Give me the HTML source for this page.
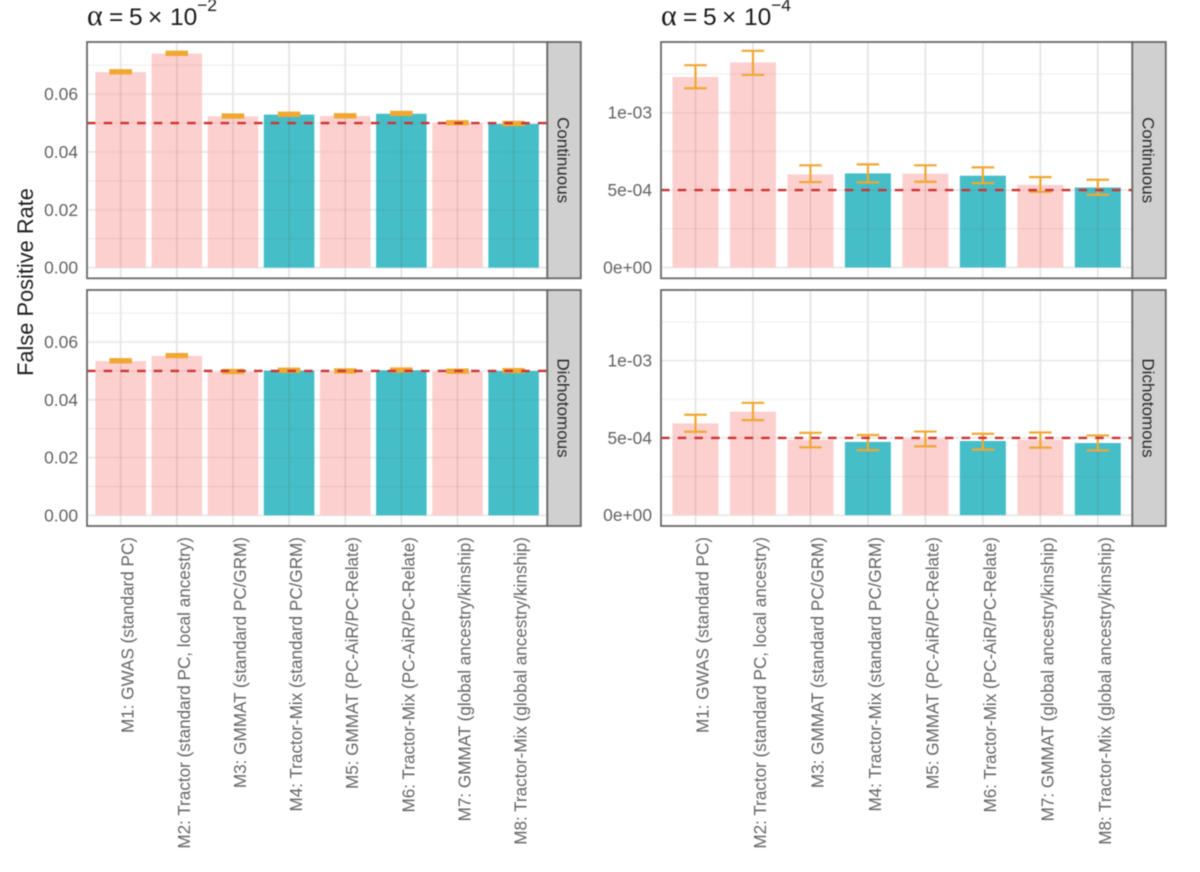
<!DOCTYPE html>
<html>
<head>
<meta charset="utf-8">
<title>False Positive Rate</title>
<style>
html,body{margin:0;padding:0;background:#fff;}
#chart{display:block;width:1200px;height:872px;font-family:"Liberation Sans",sans-serif;filter:blur(0.4px);}
</style>
</head>
<body>
<svg id="chart" xmlns="http://www.w3.org/2000/svg" width="1200" height="872" viewBox="0 0 1200 872">
  <text transform="translate(33,282) rotate(-90)" text-anchor="middle" font-size="21.8" fill="#1f1f1f">False Positive Rate</text>
  <g id="layer"></g>
</svg>
<script>
var methods = ["M1: GWAS (standard PC)","M2: Tractor (standard PC, local ancestry)","M3: GMMAT (standard PC/GRM)","M4: Tractor-Mix (standard PC/GRM)","M5: GMMAT (PC-AiR/PC-Relate)","M6: Tractor-Mix (PC-AiR/PC-Relate)","M7: GMMAT (global ancestry/kinship)","M8: Tractor-Mix (global ancestry/kinship)"];
var isTractorMix = [false,false,false,true,false,true,false,true];

var continuous05 = [0.0676,0.0740,0.0523,0.0529,0.0524,0.0532,0.0500,0.0497];
var continuous05Upper = [0.0681,0.0745,0.0528,0.0534,0.0529,0.0537,0.0505,0.0502];
var continuous05Lower = [0.0673,0.0737,0.0520,0.0526,0.0521,0.0529,0.0497,0.0494];

var dichotomous05 = [0.0534,0.0552,0.0497,0.0501,0.0499,0.0502,0.0498,0.0500];
var dichotomous05Upper = [0.0539,0.0557,0.0502,0.0506,0.0504,0.0507,0.0503,0.0505];
var dichotomous05Lower = [0.0531,0.0549,0.0494,0.0498,0.0496,0.0499,0.0495,0.0497];

var continuous0005 = [12.31e-4,13.25e-4,6.01e-4,6.08e-4,6.06e-4,5.93e-4,5.34e-4,5.17e-4];
var continuous0005Upper = [13.07e-4,14.00e-4,6.60e-4,6.66e-4,6.60e-4,6.47e-4,5.84e-4,5.67e-4];
var continuous0005Lower = [11.58e-4,12.44e-4,5.52e-4,5.50e-4,5.54e-4,5.45e-4,4.89e-4,4.70e-4];

var dichotomous0005 = [5.94e-4,6.70e-4,4.88e-4,4.74e-4,4.93e-4,4.80e-4,4.88e-4,4.67e-4];
var dichotomous0005Upper = [6.50e-4,7.27e-4,5.33e-4,5.19e-4,5.41e-4,5.27e-4,5.35e-4,5.16e-4];
var dichotomous0005Lower = [5.40e-4,6.15e-4,4.39e-4,4.21e-4,4.45e-4,4.24e-4,4.37e-4,4.19e-4];

var alpha05 = 0.05;
var alpha0005 = 5e-4;
var majorTicks05 = [0,0.02,0.04,0.06];
var majorLabels05 = ["0.00","0.02","0.04","0.06"];
var minorTicks05 = [0.01,0.03,0.05,0.07];
var majorTicks0005 = [0,5e-4,1e-3];
var majorLabels0005 = ["0e+00","5e-04","1e-03"];
var minorTicks0005 = [2.5e-4,7.5e-4,12.5e-4];

var SVGNS = "http://www.w3.org/2000/svg";
var layer = document.getElementById("layer");
function mk(tag, attrs, parent) {
  var e = document.createElementNS(SVGNS, tag);
  for (var k in attrs) { e.setAttribute(k, attrs[k]); }
  (parent || layer).appendChild(e);
  return e;
}

function drawPanel(cfg) {
  var L = cfg.left, R = cfg.right, T = cfg.top, B = cfg.bottom;
  var n = methods.length;
  var step = (R - L) / (n - 1 + 1.2);
  function x(i) { return L + (0.6 + i) * step; }
  function y(v) { return B - (v - cfg.ymin) / (cfg.ymax - cfg.ymin) * (B - T); }
  var barW = step * cfg.barFrac;

  var g = mk("g", {});
  
  

  cfg.minor.forEach(function (v) {
    var l = mk("line", {x1:L, x2:R, y1:y(v), y2:y(v), stroke:"#f0f0f0", "stroke-width":1.3}, g);
    
    
  });
  cfg.major.forEach(function (v) {
    var l = mk("line", {x1:L, x2:R, y1:y(v), y2:y(v), stroke:"#e9e9e9", "stroke-width":1.8}, g);
    
    
  });
  methods.forEach(function (m, i) {
    var l = mk("line", {x1:x(i), x2:x(i), y1:T, y2:B, stroke:"#e5e5e5", "stroke-width":1.8}, g);
    
    
  });

  cfg.values.forEach(function (v, i) {
    var bar = mk("rect", {x:x(i) - barW / 2, y:y(v), width:barW, height:y(0) - y(v), fill:isTractorMix[i] ? "#45bec8" : "#fcd0cf"}, g);
    
    

    cfg.major.concat(cfg.minor).forEach(function (tick) {
      if (tick < v && tick > 0) {
        var s = mk("line", {x1:x(i) - barW / 2, x2:x(i) + barW / 2, y1:y(tick), y2:y(tick), stroke:"rgba(110,90,90,0.08)", "stroke-width":1.5}, g);
        
        
      }
    });
    var vs = mk("line", {x1:x(i), x2:x(i), y1:y(v), y2:y(0), stroke:"rgba(90,80,80,0.14)", "stroke-width":1.6}, g);
    
    
  });

  var capW = 22.5;
  cfg.values.forEach(function (v, i) {
    var eb = mk("path", {
      d:"M" + (x(i) - capW / 2) + " " + y(cfg.upper[i]) + "H" + (x(i) + capW / 2) +
        "M" + x(i) + " " + y(cfg.upper[i]) + "V" + y(cfg.lower[i]) +
        "M" + (x(i) - capW / 2) + " " + y(cfg.lower[i]) + "H" + (x(i) + capW / 2),
      fill:"none", stroke:"#f0a832", "stroke-width":cfg.errW}, g);
    
    
  });

  var ref = mk("line", {x1:L, x2:R, y1:y(cfg.alpha), y2:y(cfg.alpha), stroke:"#cc3333", "stroke-width":2.4, "stroke-dasharray":"8.5 8.2"}, g);
  
  

  var border = mk("rect", {x:L, y:T, width:R - L, height:B - T, fill:"none", stroke:"#6a6a6a", "stroke-width":1.8}, g);
  
  

  cfg.major.forEach(function (v, i) {
    var t = mk("text", {x:L - 9, y:y(v) + 6, "text-anchor":"end", "font-size":17.4, fill:"#636363"}, g);
    t.textContent = cfg.labels[i];
    
    
  });

  var strip = mk("rect", {x:R, y:T, width:33.5, height:B - T, fill:"#d0d0d0", stroke:"#666666", "stroke-width":1.8}, g);
  
  
  var sx = R + 10, sy = (T + B) / 2;
  var st = mk("text", {transform:"translate(" + sx + "," + sy + ") rotate(90)", "text-anchor":"middle", "font-size":17, fill:"#2a2a2a"}, g);
  st.textContent = cfg.strip;
  
  

  if (cfg.xLabels) {
    methods.forEach(function (m, i) {
      var tx = x(i) + 13, ty = 537;
      var t = mk("text", {transform:"translate(" + tx + "," + ty + ") rotate(-90)", "text-anchor":"end", "font-size":17.1, fill:"#666666"}, g);
      t.textContent = m;
      
      
    });
  }
}

function drawTitle(x0, exponent, name) {
  var t = mk("text", {y:25, "font-size":24.5, fill:"#1a1a1a"});
  
  
  var parts = [["\u03B1",0,"Liberation Serif",30,25],["=",22,"Liberation Sans",24.5,25],["5",42,"Liberation Sans",24.5,25],["\u00D7",61,"Liberation Sans",24.5,25],["10",83,"Liberation Sans",24.5,25],[exponent,110,"Liberation Sans",17.5,11]];
  parts.forEach(function (p) {
    var s = mk("tspan", {x:x0 + p[1], y:p[4], "font-family":p[2] + ", sans-serif", "font-size":p[3]}, t);
    s.textContent = p[0];
  });
}

drawTitle(87, "\u22122", "title-alpha-5e-2");
drawTitle(661, "\u22124", "title-alpha-5e-4");

var ymin05 = -0.00367, ymax05 = 0.078, ymin0005 = -0.70e-4, ymax0005 = 14.57e-4;

drawPanel({name:"panel-continuous-5e-2", left:87, right:547.3, top:42, bottom:278.3, ymin:ymin05, ymax:ymax05, barFrac:0.9, errW:3,
  values:continuous05, upper:continuous05Upper, lower:continuous05Lower, alpha:alpha05,
  major:majorTicks05, labels:majorLabels05, minor:minorTicks05, strip:"Continuous", xLabels:false});
drawPanel({name:"panel-dichotomous-5e-2", left:87, right:547.3, top:290, bottom:526, ymin:ymin05, ymax:ymax05, barFrac:0.9, errW:3,
  values:dichotomous05, upper:dichotomous05Upper, lower:dichotomous05Lower, alpha:alpha05,
  major:majorTicks05, labels:majorLabels05, minor:minorTicks05, strip:"Dichotomous", xLabels:true});
drawPanel({name:"panel-continuous-5e-4", left:661, right:1132.3, top:42, bottom:278.3, ymin:ymin0005, ymax:ymax0005, barFrac:0.8, errW:2.2,
  values:continuous0005, upper:continuous0005Upper, lower:continuous0005Lower, alpha:alpha0005,
  major:majorTicks0005, labels:majorLabels0005, minor:minorTicks0005, strip:"Continuous", xLabels:false});
drawPanel({name:"panel-dichotomous-5e-4", left:661, right:1132.3, top:290, bottom:526, ymin:ymin0005, ymax:ymax0005, barFrac:0.8, errW:2.2,
  values:dichotomous0005, upper:dichotomous0005Upper, lower:dichotomous0005Lower, alpha:alpha0005,
  major:majorTicks0005, labels:majorLabels0005, minor:minorTicks0005, strip:"Dichotomous", xLabels:true});
</script>
</body>
</html>
